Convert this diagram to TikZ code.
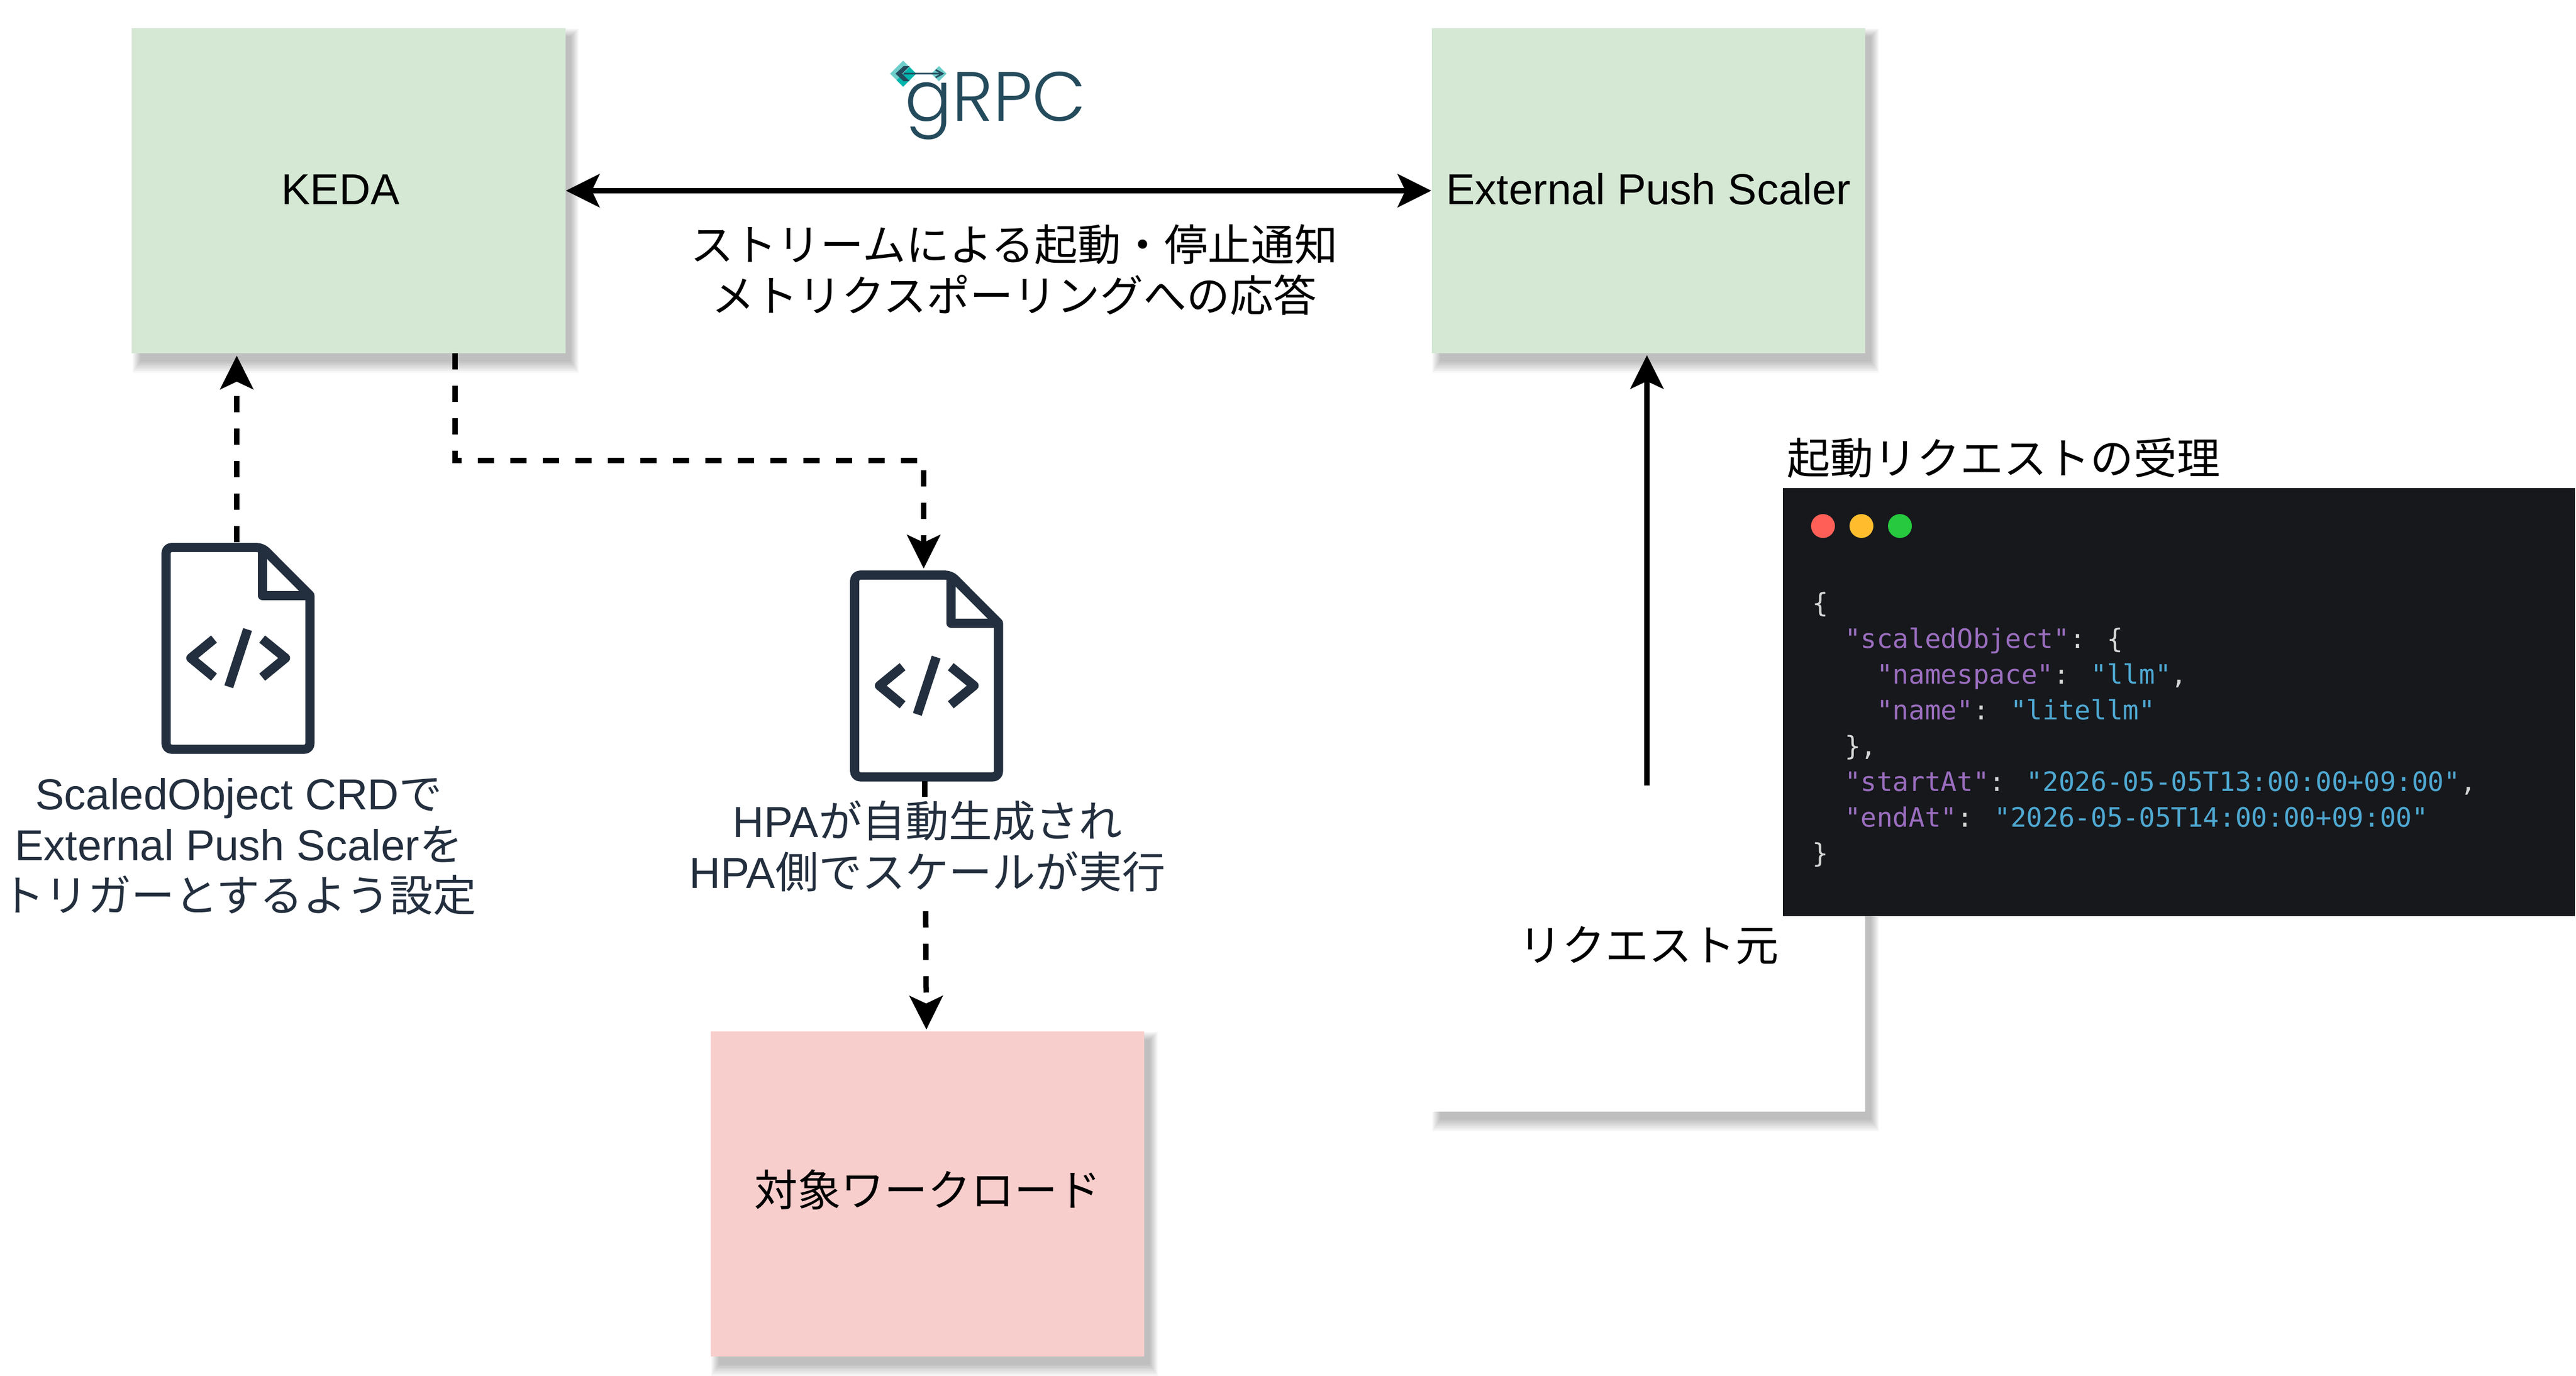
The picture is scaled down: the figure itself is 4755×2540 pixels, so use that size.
\documentclass[tikz,border=0pt]{standalone}
\usepackage{fontspec}
\usetikzlibrary{arrows.meta,backgrounds}
\setmainfont{Liberation Sans}
\newfontfamily\jp{Noto Sans CJK JP}
\newfontfamily\codefont{DejaVu Sans Mono}
\newfontfamily\logofont[UprightFont={* Light}]{Poppins}
\definecolor{keepgreen}{HTML}{D5E8D4}
\definecolor{workpink}{HTML}{F8CECC}
\definecolor{iconcolor}{HTML}{232F3E}
\definecolor{panelcolor}{HTML}{16181C}
\definecolor{keycolor}{HTML}{9A6DBE}
\definecolor{strcolor}{HTML}{4FA9D2}
\definecolor{puncolor}{HTML}{D6D6D6}
\definecolor{logocolor}{HTML}{244B5C}
\definecolor{logolight}{HTML}{6CCDC9}
\definecolor{logoteal}{HTML}{00B5AD}
\newcommand{\codekey}[1]{\textcolor{keycolor}{#1}}
\newcommand{\codestr}[1]{\textcolor{strcolor}{#1}}
\tikzset{docicon/.pic={
    \node[minimum width=2.84cm,minimum height=3.9cm,inner sep=0pt,anchor=north west] (-box) at (0,0) {};
    \draw[iconcolor,line width=.17cm,line join=round,fill=white,rounded corners=.1cm] (8.7,8.7) -- (186,8.7) [sharp corners] -- (274,97) [rounded corners=.1cm] -- (274,381) -- (8.7,381) -- cycle;
    \draw[iconcolor,line width=.17cm,line join=round] (186,8.7) -- (186,97) -- (274,97);
    \draw[iconcolor,line width=.17cm,line join=round] (97,177.7) -- (54.3,212.7) -- (97,248);
    \draw[iconcolor,line width=.17cm,line join=round] (186,177.7) -- (229,212.7) -- (186,248);
    \draw[iconcolor,line width=.17cm] (159,160) -- (124.3,265.7);
}}
\begin{document}
\begin{tikzpicture}[x=.01cm,y=-.01cm,>={Stealth[length=.62cm,width=.61cm,inset=.14cm]},font=\fontsize{22.75}{26.7}\selectfont]
  \tikzstyle{flatbox}=[minimum width=8cm,minimum height=6cm,inner sep=0pt,text height=.5cm,text depth=0cm]
  \tikzstyle{jpbox}=[flatbox,text height=.44cm]
  \tikzstyle{link}=[->,line width=.1cm,shorten >=1pt]
  \tikzstyle{dashlink}=[link,dash pattern=on .3cm off .3cm]
  \tikzstyle{twolines}=[align=center,text=iconcolor,inner sep=2pt]
  \tikzstyle{dot}=[circle,minimum size=.44cm,inner sep=0pt]

  \useasboundingbox (0,0) rectangle (4755,2540);

  \node[flatbox,fill=keepgreen]      (keda)   at (643.5,352)  {KEDA\rule{.3cm}{0pt}};
  \node[flatbox,fill=keepgreen]      (scaler) at (3043,352)   {External Push Scaler};
  \node[jpbox,fill=workpink]         (target) at (1712,2204)  {\jp 対象ワークロード};
  \node[jpbox,fill=white]            (source) at (3043,1752)  {\jp リクエスト元};

  % soft edge under the boxes
  \begin{scope}[on background layer]
    \foreach \boxname in {keda,scaler,target,source}
      \foreach \g in {0,...,7}
        \fill[black,opacity=.035] ([shift={(16-2*\g,16-2*\g)}]\boxname.north west) rectangle ([shift={(10+2*\g,14+3*\g)}]\boxname.south east);
  \end{scope}

  \pic (doca) at (298,1002) {docicon};
  \pic (docb) at (1569,1053) {docicon};

  \coordinate (docaout) at (437,1001);
  \coordinate (kedaout) at (840,652);
  \coordinate (bend)    at (1705,850);
  \coordinate (docbin)  at (1705,1053);
  \coordinate (docbout) at (1707,1442);
  \coordinate (targetin) at (1710,1904);
  \coordinate (sourceout) at (3040,1450);
  \coordinate (scalerin) at (3040,652);

  \draw[<->,line width=.1cm] (keda.east) -- (scaler.west);
  \draw[link] (sourceout) -- (scalerin);
  \draw[dashlink] (docaout) -- (docaout |- keda.south);
  \draw[dashlink] (kedaout) -- (kedaout |- bend) -- (bend) -- (docbin);
  \draw[dashlink] (docbout) -- (targetin);

  \node[twolines] (crdlabel) at (441,1563) {ScaledObject CRD{\jp で}\\External Push Scaler{\jp を}\\{\jp トリガーとするよう設定}};
  \node[twolines,fill=white] (hpalabel) at (1712,1562) {HPA{\jp が自動生成され}\\HPA{\jp 側でスケールが実行}};
  \node[align=center] (grpclabel) at (1872,498) {\jp ストリームによる起動・停止通知\\\jp メトリクスポーリングへの応答};

  % grpc mark
  \node[anchor=base west,inner sep=0pt,text=logocolor,font=\logofont\fontsize{36.6}{37}\selectfont] (grpc) at (1670,224) {gRPC};
  \fill[logolight] (1667,112) -- (1691,136) -- (1667,160) -- (1643,136) -- cycle;
  \fill[logoteal] (1691,136) -- (1667,160) -- (1655,148) -- (1679,124) -- cycle;
  \fill[logolight] (1733,122) -- (1747,136) -- (1733,150) -- (1719,136) -- cycle;
  \fill[logocolor] (1679,122) -- (1668,122) -- (1653,136) -- (1668,150) -- (1679,150) -- (1665,136) -- cycle;
  \draw[logocolor,line width=.03cm] (1668,136) -- (1740,136) (1727,129) -- (1740,136) -- (1727,143);

  \node[fill=panelcolor,minimum width=14.61cm,minimum height=7.9cm,inner sep=0pt,anchor=north west] (panel) at (3290,900) {};
  \node[anchor=south west,inner sep=0pt] (paneltitle) at (3298,883) {\jp 起動リクエストの受理};
  \node[dot,fill={rgb,255:red,255;green,95;blue,86}] (dotr) at (3365,971) {};
  \node[dot,fill={rgb,255:red,255;green,189;blue,46}] (doty) at (3436,971) {};
  \node[dot,fill={rgb,255:red,39;green,201;blue,63}] (dotg) at (3507,971) {};
  \node[anchor=north west,inner sep=0pt,align=left,text=puncolor,font=\codefont\fontsize{14}{18.8}\selectfont] (code) at (3345,1092)
    {\{\\
     \phantom{xx}\codekey{"scaledObject"}: \{\\
     \phantom{xxxx}\codekey{"namespace"}: \codestr{"llm"},\\
     \phantom{xxxx}\codekey{"name"}: \codestr{"litellm"}\\
     \phantom{xx}\},\\
     \phantom{xx}\codekey{"startAt"}: \codestr{"2026-05-05T13:00:00+09:00"},\\
     \phantom{xx}\codekey{"endAt"}: \codestr{"2026-05-05T14:00:00+09:00"}\\
     \}};
\end{tikzpicture}
\end{document}
